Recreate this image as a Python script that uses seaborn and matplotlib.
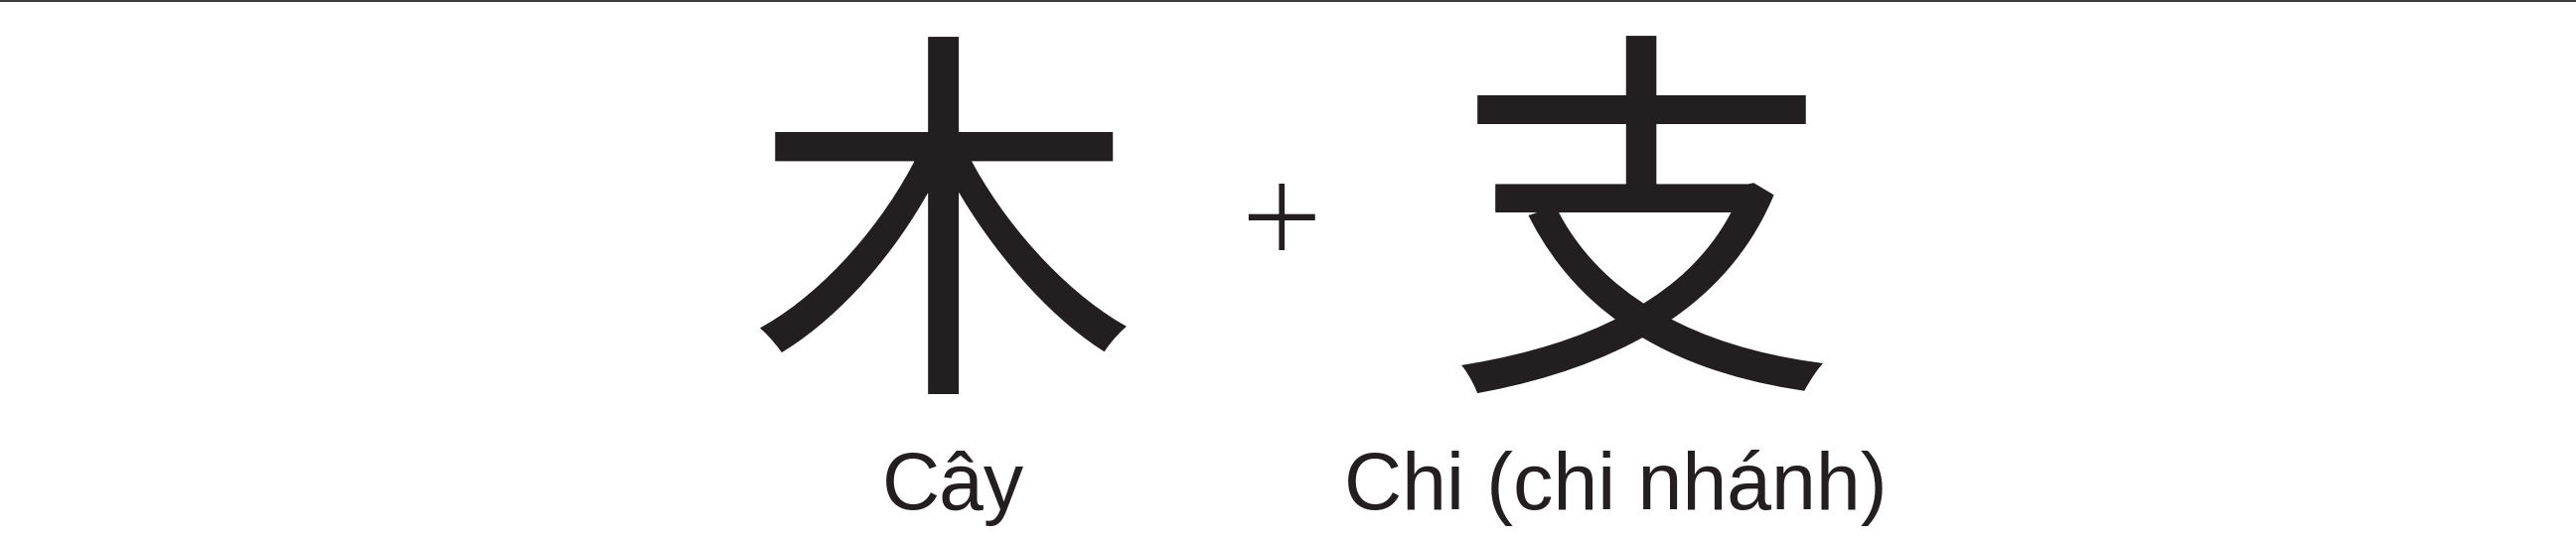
import matplotlib
matplotlib.use("Agg")
import matplotlib.pyplot as plt
import seaborn as sns
from matplotlib.lines import Line2D

# ---- content ----
components = ["木", "支"]
meanings = ["Cây", "Chi (chi nhánh)"]
operator = "+"

sns.set_theme(style="white")
plt.rcParams["font.family"] = ["Noto Sans CJK SC", "DejaVu Sans"]

W, H = 2593, 545
fig = plt.figure(figsize=(W / 100, H / 100), dpi=100)
fig.patch.set_facecolor("white")
ax = fig.add_axes([0, 0, 1, 1])
ax.set_xlim(0, W)
ax.set_ylim(H, 0)
ax.axis("off")

ink = "#231f20"

# layout (pixel space)
char_x = [949, 1653]
char_baseline = 366
label_x = [959, 1626]
label_baseline = 513

for x, ch in zip(char_x, components):
    ax.text(x, char_baseline, ch, fontsize=282, color=ink, ha="center",
            va="baseline", family=["Noto Sans CJK SC", "DejaVu Sans"])

ax.text(1289, 233, operator, fontsize=104, color=ink, ha="center", va="center",
        family=["Open Sans", "DejaVu Sans"], fontweight="light")

for x, lab in zip(label_x, meanings):
    ax.text(x, label_baseline, lab, fontsize=58, color=ink, ha="center",
            va="baseline", family=["Liberation Sans", "DejaVu Sans"])

# thin rule along the top edge
fig.add_artist(Line2D([0, 1], [0.9985, 0.9985], transform=fig.transFigure,
                      color="#3a3a3a", linewidth=1.4))

fig.savefig("out.png", dpi=100, facecolor="white")
